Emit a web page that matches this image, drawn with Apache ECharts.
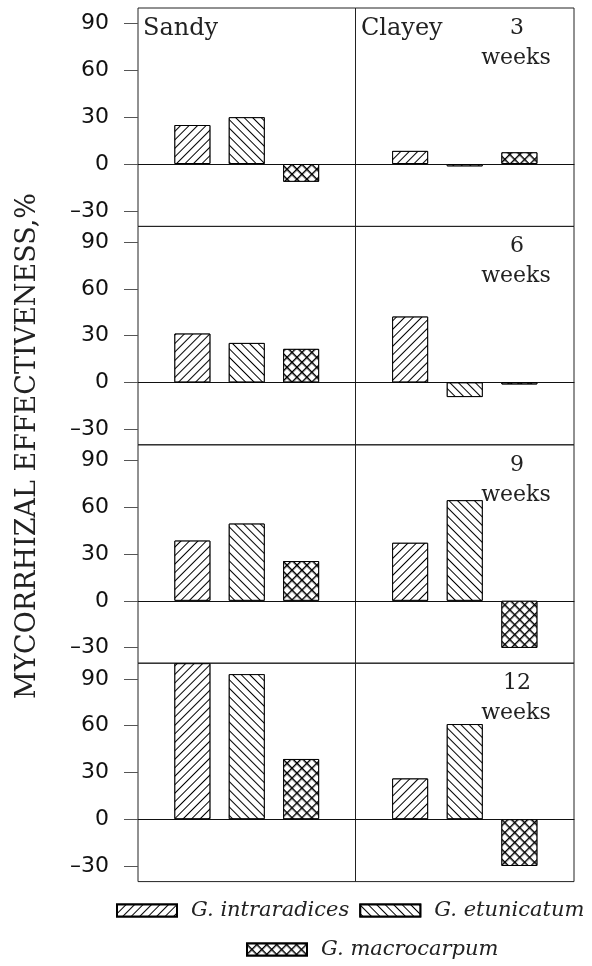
<!DOCTYPE html>
<html>
<head>
<meta charset="utf-8">
<script src="https://cdn.jsdelivr.net/npm/echarts@6/dist/echarts.min.js"></script>
<style>html,body{margin:0;padding:0;background:#fff}#c{width:592px;height:966px}</style>
</head>
<body>
<div id="c"></div>
<script>
const categories = ['G. intraradices', 'G. etunicatum', 'G. macrocarpum'];
const soils = ['Sandy', 'Clayey'];
const weeks = ['3', '6', '9', '12'];
const weekWord = 'weeks';
const sandy3 = [25, 30, -11.4];
const clayey3 = [8.4, -1.5, 7.5];
const sandy6 = [31.3, 25.3, 21.5];
const clayey6 = [42.2, -9.4, -1.3];
const sandy9 = [38.6, 49.5, 25.5];
const clayey9 = [37.2, 64.5, -30.2];
const sandy12 = [100, 93, 38.6];
const clayey12 = [26.1, 61, -30];
const yTicks = [-30, 0, 30, 60, 90];
const yLabel = 'MYCORRHIZAL EFFECTIVENESS,%';

const rows = [[sandy3, clayey3], [sandy6, clayey6], [sandy9, clayey9], [sandy12, clayey12]];

const decals = [
  {symbol: 'rect', symbolSize: 1, dashArrayX: [1, 0], dashArrayY: [1, 5], rotation: -Math.PI / 4, color: '#000', backgroundColor: '#fff'},
  {symbol: 'rect', symbolSize: 1, dashArrayX: [1, 0], dashArrayY: [1, 5], rotation: Math.PI / 4, color: '#000', backgroundColor: '#fff'},
  {symbol: 'path://M0,0H10V2H0Z M0,0H2V10H0Z', symbolSize: 1, dashArrayX: [7, 0], dashArrayY: [7, 0], rotation: Math.PI / 4, color: '#000', backgroundColor: '#fff'}
];

const colLeft = [138, 355.5];
const colWidth = [217.5, 218.5];
const rowTop0 = 8, rowH = 218.4;

const grids = [], xAxes = [], yAxes = [], series = [], graphics = [];
let gi = 0;
rows.forEach((row, r) => {
  row.forEach((vals, c) => {
    grids.push({left: colLeft[c], top: rowTop0 + r * rowH, width: colWidth[c], height: rowH,
      show: true, borderColor: '#222', borderWidth: 1, backgroundColor: 'transparent'});
    xAxes.push({type: 'value', gridIndex: gi, min: 0, max: 4,
      axisLine: {show: true, onZero: true, lineStyle: {color: '#111', width: 1}},
      axisTick: {show: false}, axisLabel: {show: false}, splitLine: {show: false}});
    yAxes.push({type: 'value', gridIndex: gi, min: -40, max: 100,
      axisLine: {show: false},
      axisTick: {show: c === 0, length: 14, lineStyle: {color: '#555', width: 1}, customValues: yTicks},
      axisLabel: {show: c === 0, customValues: yTicks, margin: 29, fontFamily: 'DejaVu Sans', fontSize: 22, color: '#111',
        formatter: v => v < 0 ? '\u2013' + Math.abs(v) : String(v)},
      splitLine: {show: false}});
    vals.forEach((v, s) => {
      series.push({type: 'bar', name: categories[s], xAxisIndex: gi, yAxisIndex: gi,
        data: [[s + 1, v]], barWidth: 36, barGap: '-100%',
        itemStyle: {color: '#fff', borderColor: '#000', borderWidth: 1, decal: decals[s]},
        emphasis: {disabled: true}, animation: false});
    });
    gi++;
  });
  const top = rowTop0 + r * rowH;
  graphics.push({type: 'text', x: 517, y: top + 20, style: {text: weeks[r], font: '22px "DejaVu Serif"', fill: '#222', textAlign: 'center', textVerticalAlign: 'middle'}});
  graphics.push({type: 'text', x: 516, y: top + 50, style: {text: weekWord, font: '22px "DejaVu Serif"', fill: '#222', textAlign: 'center', textVerticalAlign: 'middle'}});
});
graphics.push({type: 'text', x: 143, y: 29, style: {text: soils[0], font: '24px "DejaVu Serif"', fill: '#222', textAlign: 'left', textVerticalAlign: 'middle'}});
graphics.push({type: 'text', x: 361, y: 29, style: {text: soils[1], font: '24px "DejaVu Serif"', fill: '#222', textAlign: 'left', textVerticalAlign: 'middle'}});
graphics.push({type: 'text', x: 28, y: 446, rotation: Math.PI / 2, style: {text: yLabel, font: '27px "DejaVu Serif"', fill: '#222', textAlign: 'center', textVerticalAlign: 'middle'}});

const legendText = {fontFamily: 'DejaVu Serif', fontStyle: 'italic', fontSize: 21, color: '#222', padding: [0, 0, 0, 9]};
const option = {
  animation: false,
  backgroundColor: '#fff',
  grid: grids, xAxis: xAxes, yAxis: yAxes, series: series,
  legend: [
    {data: [categories[0], categories[1]], left: 111, top: 895, itemWidth: 60, itemHeight: 12, itemGap: 10, icon: 'rect', textStyle: legendText, selectedMode: false},
    {data: [categories[2]], left: 241, top: 934, itemWidth: 60, itemHeight: 12, itemGap: 10, icon: 'rect', textStyle: legendText, selectedMode: false}
  ],
  graphic: graphics
};
const chart = echarts.init(document.getElementById('c'), null, {renderer: 'canvas'});
chart.setOption(option);
</script>
</body>
</html>
